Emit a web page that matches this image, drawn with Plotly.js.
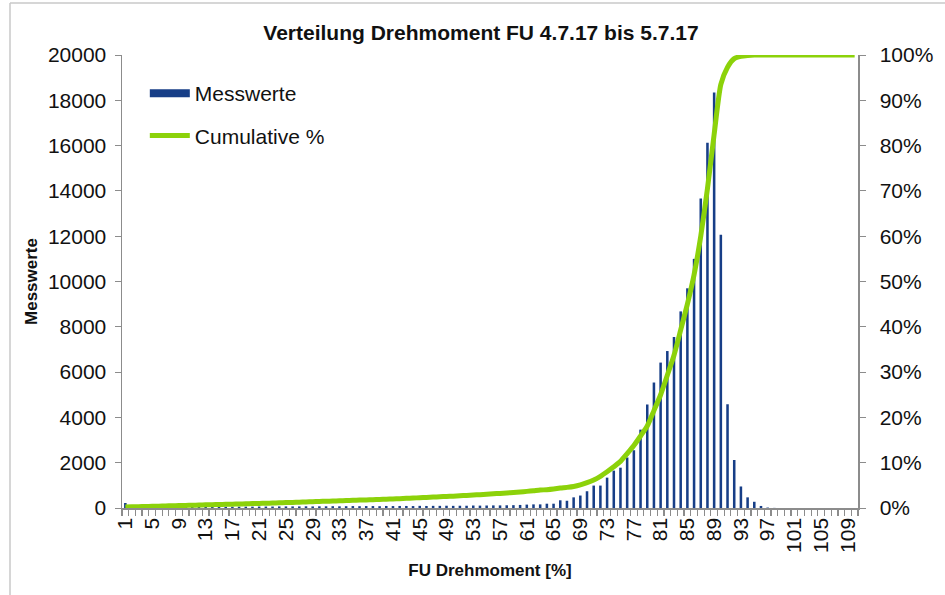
<!DOCTYPE html>
<html>
<head>
<meta charset="utf-8">
<script src="https://cdn.plot.ly/plotly-3.0.1.min.js"></script>
<style>
html,body{margin:0;padding:0;background:#fff;}
#chart{width:945px;height:595px;}
</style>
</head>
<body>
<div id="chart"></div>
<script>
// Categories: FU Drehmoment [%]
const categories = [];
for (let i = 1; i <= 110; i++) categories.push(i);

const messwerte = [
  220, 20, 25, 30, 30, 35, 35, 40, 40, 45,
  45, 45, 50, 50, 55, 55, 55, 60, 60, 60,
  65, 65, 65, 70, 70, 70, 70, 75, 70, 75,
  75, 80, 75, 80, 85, 80, 85, 85, 80, 90,
  85, 90, 90, 85, 95, 90, 95, 95, 100, 95,
  100, 100, 110, 105, 110, 115, 115, 120, 125, 135,
  150, 160, 160, 190, 190, 340, 320, 470, 550, 740,
  990, 990, 1340, 1650, 1780, 2230, 2550, 3460, 4570, 5540,
  6420, 6930, 7550, 8680, 9700, 11000, 13660, 16130, 18340, 12060,
  4580, 2120, 950, 470, 275, 90, 20, 5, 0, 0,
  0, 0, 0, 0, 0, 0, 0, 0, 0, 0
];

// Cumulative % (as fraction)
const cumulative = [
  0.0020, 0.0025, 0.0030, 0.0033, 0.0037, 0.0041, 0.0045, 0.0049, 0.0053, 0.0057,
  0.0061, 0.0065, 0.0069, 0.0073, 0.0077, 0.0081, 0.0085, 0.0089, 0.0093, 0.0097,
  0.0101, 0.0105, 0.0109, 0.0114, 0.0119, 0.0124, 0.0129, 0.0134, 0.0139, 0.0144,
  0.0149, 0.0154, 0.0159, 0.0164, 0.0169, 0.0174, 0.0179, 0.0184, 0.0189, 0.0194,
  0.0200, 0.0206, 0.0213, 0.0220, 0.0227, 0.0234, 0.0241, 0.0248, 0.0255, 0.0262,
  0.0270, 0.0278, 0.0286, 0.0295, 0.0304, 0.0313, 0.0322, 0.0332, 0.0343, 0.0355,
  0.0367, 0.0380, 0.0395, 0.0405, 0.0420, 0.0440, 0.0455, 0.0475, 0.0510, 0.0560,
  0.0620, 0.0700, 0.0800, 0.0910, 0.1030, 0.1200, 0.1380, 0.1590, 0.1810, 0.2150,
  0.2500, 0.2930, 0.3370, 0.3930, 0.4500, 0.5150, 0.6000, 0.7050, 0.8250, 0.9350,
  0.9730, 0.9920, 0.9970, 0.9990, 1.0000, 1.0000, 1.0000, 1.0000, 1.0000, 1.0000,
  1.0000, 1.0000, 1.0000, 1.0000, 1.0000, 1.0000, 1.0000, 1.0000, 1.0000, 1.0000
];

const seriesNames = ['Messwerte', 'Cumulative %'];
const chartTitle = 'Verteilung Drehmoment FU 4.7.17 bis 5.7.17';
const xTitle = 'FU Drehmoment [%]';
const yTitle = 'Messwerte';

const barColor = '#173E87';
const lineColor = '#8CD20A';
const axisColor = '#8C8C8C';
const font = 'Liberation Sans, Arial, sans-serif';

const data = [
  {
    type: 'bar', x: categories, y: messwerte, name: seriesNames[0],
    marker: {color: barColor}, showlegend: false, hoverinfo: 'x+y'
  },
  {
    type: 'scatter', mode: 'lines', x: [null], y: [null], name: seriesNames[0],
    line: {color: barColor, width: 8}, legendgroup: 'a', showlegend: true, hoverinfo: 'skip'
  },
  {
    type: 'scatter', mode: 'lines', x: categories, y: cumulative, name: seriesNames[1],
    yaxis: 'y2', line: {color: lineColor, width: 5, shape: 'spline', smoothing: 0.6},
    cliponaxis: false, legendgroup: 'b'
  }
];

const layout = {
  width: 945, height: 595,
  margin: {l: 122, r: 87, t: 55, b: 87},
  paper_bgcolor: '#ffffff', plot_bgcolor: '#ffffff',
  font: {family: font, color: '#111', size: 21},
  title: {text: '<b>' + chartTitle + '</b>', x: 0.509, xanchor: 'center', y: 0.945, yanchor: 'middle',
          font: {family: font, size: 21, color: '#111'}},
  bargap: 0.62,
  showlegend: true,
  legend: {x: 0.031, y: 0.96, xanchor: 'left', yanchor: 'top', bgcolor: 'rgba(0,0,0,0)',
           font: {family: font, size: 21, color: '#111'}, tracegroupgap: 12, traceorder: 'grouped',
           itemwidth: 40},
  xaxis: {
    type: 'linear', range: [0.5, 110.5], tick0: 1, dtick: 4, tickangle: -90,
    showgrid: false, zeroline: false, showline: true, linecolor: axisColor, linewidth: 1.5,
    ticks: '', tickfont: {family: font, size: 21, color: '#111'},
    minor: {ticks: 'outside', tick0: 0.5, dtick: 1, ticklen: 6, tickcolor: axisColor, tickwidth: 1.2, showgrid: false},
    title: {text: '<b>' + xTitle + '</b>', font: {family: font, size: 17, color: '#111'}, standoff: 12},
    fixedrange: true
  },
  yaxis: {
    range: [0, 20000], dtick: 2000, tickformat: 'd', showgrid: false, zeroline: false,
    showline: true, linecolor: axisColor, linewidth: 1.5, ticks: 'outside', ticklen: 6,
    ticklabelstandoff: 4,
    tickcolor: axisColor, tickfont: {family: font, size: 21, color: '#111'},
    title: {text: '<b>' + yTitle + '</b>', font: {family: font, size: 17, color: '#111'}, standoff: 6},
    fixedrange: true
  },
  yaxis2: {
    range: [0, 1], dtick: 0.1, tickformat: '.0%', overlaying: 'y', side: 'right',
    showgrid: false, zeroline: false, showline: true, linecolor: axisColor, linewidth: 1.5,
    ticks: 'outside', ticklen: 6, tickcolor: axisColor, ticklabelstandoff: 10,
    tickfont: {family: font, size: 21, color: '#111'}, fixedrange: true
  },
  shapes: [
    {type: 'line', xref: 'paper', yref: 'paper', x0: (10 - 122) / 736, x1: (10 - 122) / 736,
     y0: -87 / 453, y1: (595 - 3 - 87) / 453, line: {color: '#c8c8c8', width: 1.5}},
    {type: 'line', xref: 'paper', yref: 'paper', x0: (10 - 122) / 736, x1: (945 - 122) / 736,
     y0: (595 - 3 - 87) / 453, y1: (595 - 3 - 87) / 453, line: {color: '#c8c8c8', width: 1.5}}
  ]
};

Plotly.newPlot('chart', data, layout, {displayModeBar: false, staticPlot: true});
</script>
</body>
</html>
